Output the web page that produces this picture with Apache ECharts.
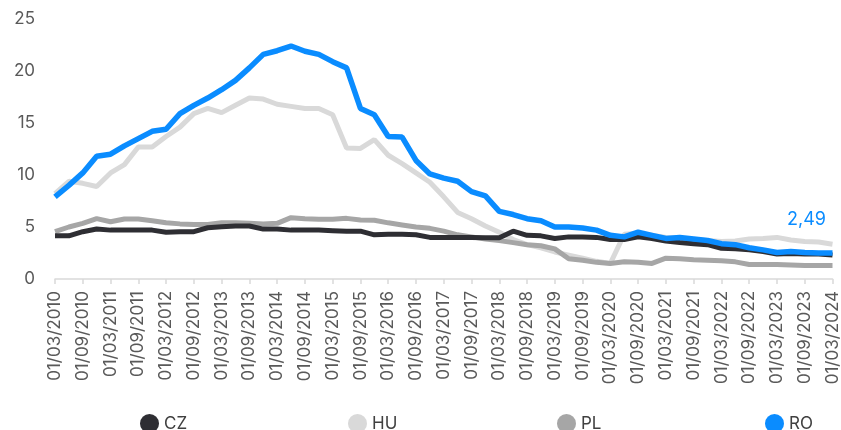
<!DOCTYPE html>
<html>
<head>
<meta charset="utf-8">
<script src="https://cdn.jsdelivr.net/npm/echarts@6/dist/echarts.min.js"></script>
<style>
html,body{margin:0;padding:0;background:#fff;}
#chart{width:841px;height:430px;}
</style>
</head>
<body>
<div id="chart"></div>
<script>
// Quarterly dates 01/03/2010 .. 01/03/2024
var categories = [];
for (var y = 2010; y <= 2024; y++) {
  ['03','06','09','12'].forEach(function (m) {
    if (y === 2024 && m !== '03') return;
    categories.push('01/' + m + '/' + y);
  });
}

var seriesNames = ['CZ', 'HU', 'PL', 'RO'];

var CZ = [4.15,4.15,4.55,4.8,4.7,4.7,4.7,4.7,4.5,4.55,4.55,4.93,5.03,5.1,5.1,4.8,4.8,4.7,4.7,4.7,
  4.65,4.6,4.6,4.25,4.3,4.3,4.25,4.0,4.0,4.0,4.0,3.97,3.97,4.6,4.2,4.15,3.9,4.05,4.05,4.0,
  3.8,3.8,4.05,3.9,3.65,3.5,3.4,3.3,2.95,2.9,2.8,2.65,2.4,2.45,2.4,2.4,2.3];

var HU = [8.2,9.4,9.2,8.9,10.2,11.0,12.7,12.7,13.7,14.6,15.9,16.4,16.0,16.7,17.4,17.3,16.8,16.6,16.4,16.4,
  15.8,12.6,12.55,13.4,11.9,11.1,10.2,9.3,7.9,6.4,5.8,5.1,4.5,3.8,3.3,3.0,2.6,2.3,2.0,1.7,
  1.5,4.3,4.4,4.2,4.0,3.9,3.8,3.7,3.6,3.65,3.85,3.9,4.0,3.75,3.6,3.55,3.35];

var PL = [4.55,5.0,5.35,5.8,5.5,5.77,5.77,5.6,5.4,5.3,5.25,5.25,5.4,5.4,5.35,5.3,5.35,5.9,5.8,5.75,
  5.75,5.83,5.67,5.65,5.4,5.2,5.0,4.87,4.6,4.25,4.05,3.85,3.7,3.5,3.3,3.2,2.9,1.95,1.8,1.6,
  1.5,1.65,1.6,1.5,2.0,1.95,1.85,1.8,1.75,1.65,1.4,1.4,1.4,1.35,1.3,1.3,1.3];

var RO = [7.9,9.0,10.2,11.8,12.0,12.8,13.5,14.2,14.4,15.9,16.7,17.4,18.2,19.1,20.3,21.6,21.95,22.4,21.9,21.6,
  20.9,20.3,16.4,15.8,13.7,13.65,11.4,10.1,9.7,9.4,8.4,8.0,6.5,6.2,5.8,5.6,5.0,5.0,4.9,4.7,
  4.2,4.05,4.5,4.2,3.9,4.0,3.85,3.7,3.4,3.3,3.0,2.8,2.55,2.65,2.55,2.5,2.49];

var yTicks = [0, 5, 10, 15, 20, 25];

var colors = {CZ: '#2e2e33', HU: '#d9d9d9', PL: '#a6a6a6', RO: '#0a8cff'};
var FONT = 'Inter, Roboto, sans-serif';

var chart = echarts.init(document.getElementById('chart'), null, {renderer: 'canvas'});

var lastIdx = RO.length - 1;
var legendLefts = [135, 343, 552, 760];

chart.setOption({
  animation: false,
  backgroundColor: '#fff',
  grid: {left: 55, right: 8, top: 19, bottom: 151},
  legend: seriesNames.map(function (n, k) {
    return {
      data: [n],
      left: legendLefts[k],
      top: 409,
      icon: 'circle',
      itemWidth: 19,
      itemHeight: 19,
      itemGap: 6,
      textStyle: {fontSize: 17, color: '#404040', fontFamily: FONT},
      selectedMode: false
    };
  }),
  xAxis: {
    type: 'category',
    data: categories,
    boundaryGap: false,
    axisLine: {lineStyle: {color: '#d9d9d9', width: 1.5}},
    axisTick: {show: true, interval: 1, length: 5, lineStyle: {color: '#d9d9d9', width: 1.5}},
    axisLabel: {
      interval: 1,
      rotate: 90,
      margin: 12,
      fontSize: 17,
      color: '#595959',
      fontFamily: FONT
    },
    splitLine: {show: false}
  },
  yAxis: {
    type: 'value',
    min: yTicks[0],
    max: yTicks[yTicks.length - 1],
    interval: 5,
    axisLine: {show: false},
    axisTick: {show: false},
    splitLine: {show: false},
    axisLabel: {fontSize: 17, color: '#595959', margin: 20, fontFamily: FONT}
  },
  series: [
    {name: 'HU', type: 'line', data: HU, z: 2, symbol: 'none', lineStyle: {color: colors.HU, width: 5}, itemStyle: {color: colors.HU}},
    {name: 'PL', type: 'line', data: PL, z: 3, symbol: 'none', lineStyle: {color: colors.PL, width: 5}, itemStyle: {color: colors.PL}},
    {name: 'CZ', type: 'line', data: CZ, z: 4, symbol: 'none', lineStyle: {color: colors.CZ, width: 5}, itemStyle: {color: colors.CZ}},
    {name: 'RO', type: 'line', data: RO, z: 5, symbol: 'none', lineStyle: {color: colors.RO, width: 5.5}, itemStyle: {color: colors.RO},
      markPoint: {
        symbol: 'circle',
        symbolSize: 1,
        silent: true,
        itemStyle: {color: 'rgba(0,0,0,0)'},
        label: {
          show: true,
          position: 'top',
          distance: 0,
          offset: [-26, -24],
          color: colors.RO,
          fontSize: 18,
          fontFamily: FONT,
          formatter: function (p) { return String(p.value).replace('.', ','); }
        },
        data: [{coord: [categories[lastIdx], RO[lastIdx]], value: RO[lastIdx]}]
      }
    }
  ]
});
</script>
</body>
</html>
